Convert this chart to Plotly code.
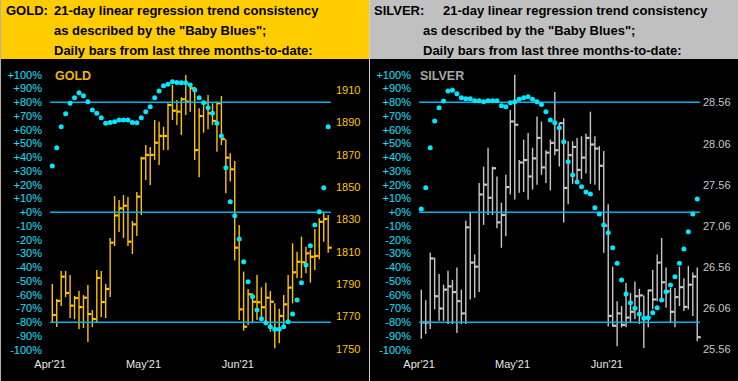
import plotly.graph_objects as go

# ---------------- data ----------------
month_labels = ["Apr'21", "May'21", "Jun'21"]

gold_high = [1790.2,1780.9,1798.2,1798.2,1795.7,1782.8,1785.8,1783.4,1789.5,1774.1,1798.8,1798.2,1790.2,1818.6,1844.5,1842.1,1845.1,1843.9,1829.1,1847.0,1868.8,1876.0,1874.8,1891.5,1890.4,1887.3,1901.8,1913.1,1903.8,1905.5,1919.3,1912.5,1912.0,1898.7,1902.8,1906.9,1901.8,1902.8,1906.3,1879.5,1870.9,1866.1,1826.6,1797.8,1787.1,1784.4,1795.7,1788.1,1791.0,1785.8,1778.2,1774.9,1783.4,1795.7,1815.3,1810.1,1819.4,1813.2,1811.2,1824.1,1830.7,1834.8,1832.8]
gold_low = [1766.7,1763.6,1776.6,1782.1,1769.2,1768.5,1762.4,1763.0,1754.3,1763.6,1766.1,1769.8,1769.2,1782.1,1813.6,1822.3,1818.6,1813.6,1808.7,1819.8,1832.8,1854.4,1851.3,1866.8,1863.7,1872.9,1872.9,1891.5,1888.4,1882.2,1894.6,1896.6,1866.8,1856.1,1883.6,1885.7,1888.4,1871.9,1876.0,1846.2,1853.4,1804.6,1767.9,1761.3,1764.8,1765.9,1767.9,1767.9,1764.8,1760.7,1750.4,1753.5,1764.8,1767.9,1778.2,1793.7,1793.7,1796.8,1791.0,1798.8,1805.4,1816.3,1809.5]
gold_close = [1771.0,1779.7,1794.7,1784.6,1776.8,1781.5,1775.9,1781.7,1771.6,1768.5,1793.9,1779.0,1787.1,1815.7,1832.5,1836.9,1838.5,1816.3,1827.0,1844.1,1867.8,1869.9,1869.9,1877.4,1881.6,1881.6,1900.7,1897.2,1896.6,1904.3,1902.8,1911.1,1872.9,1893.9,1902.2,1895.6,1890.9,1901.8,1879.7,1868.2,1861.0,1812.6,1774.5,1763.8,1783.8,1779.2,1778.9,1775.8,1781.7,1779.2,1762.2,1770.4,1777.6,1787.9,1797.4,1803.9,1803.6,1809.1,1807.0,1807.5,1828.6,1830.3,1812.6]
gold_blues = [33.7,47,62.3,71.7,79.3,83.4,87,84.8,80.4,74.4,72,68.8,64.7,65.4,65.9,67.1,67.1,67.1,65.4,65.2,68.8,73.2,76.8,83.4,88.2,92.1,93.1,95,94.5,94.3,94.3,92.6,89,83.4,79.7,76.1,72,64.7,55.5,32.4,7.7,-2.5,-19.4,-35.9,-50.5,-61.4,-71,-77.4,-80.3,-83.2,-85.1,-85.1,-83.2,-79.6,-74,-63.8,-51.2,-38.3,-24.3,-9.2,0.4,17.9,62.3]
gold_price_ticks = [1750, 1770, 1790, 1810, 1830, 1850, 1870, 1890, 1910]

silver_high = [26.28,26.15,26.73,26.67,26.47,26.34,26.51,26.40,26.55,26.28,27.12,27.23,26.71,27.58,27.78,28.01,27.78,27.66,27.34,27.68,28.47,28.90,27.86,28.11,28.19,28.01,28.39,28.33,27.98,28.11,28.69,28.31,28.37,28.09,28.09,28.13,28.15,28.18,28.45,28.15,28.03,27.97,27.32,26.56,26.14,26.08,26.36,26.24,26.38,26.29,26.21,26.28,26.52,26.71,26.91,26.55,26.30,26.30,26.56,26.42,26.57,26.49,26.55]
silver_low = [25.68,25.74,25.80,26.04,25.90,25.90,25.86,25.86,25.75,25.86,25.86,26.16,26.18,26.25,27.07,27.19,27.19,27.03,26.79,26.93,27.44,27.38,27.46,27.47,27.38,27.50,27.56,27.68,27.58,27.49,27.92,27.78,27.10,27.32,27.57,27.60,27.63,27.70,27.57,27.56,27.49,26.73,25.83,25.83,25.59,25.82,25.82,25.88,25.92,25.86,25.57,25.82,26.04,26.14,26.16,26.06,25.88,25.82,26.08,26.02,26.04,25.96,25.65]
silver_close = [25.88,25.88,26.66,26.20,26.05,26.28,26.32,26.25,26.14,25.99,27.04,26.61,26.56,27.44,27.56,27.40,27.76,27.10,27.19,27.53,28.33,28.29,27.83,27.86,27.66,27.88,28.13,27.77,27.95,28.07,27.98,28.31,27.52,27.92,28.02,27.74,27.89,28.13,28.05,28.00,27.79,27.06,25.96,25.84,25.99,25.85,25.94,26.01,26.20,26.21,25.94,26.27,26.16,26.61,26.37,26.26,26.01,26.19,26.31,26.07,26.34,26.44,25.70]
silver_blues = [2.4,17.9,47,66.4,76.1,80.9,88.2,88.7,86.3,83.4,82.6,82.6,81.2,81.2,80.4,81.2,81.2,81.2,77.5,76.8,79.7,80.4,82.2,83.4,84.1,82.2,80.4,78.5,73.2,67.1,65.2,61.5,51.3,36.8,27.1,22,18.6,14.8,13.3,3.3,-1.2,-9.2,-14.8,-25.7,-37.1,-49.2,-59.4,-65.7,-69.8,-74,-77.1,-76.7,-73,-69.4,-63.8,-57.7,-52.9,-46.8,-37.1,-26.7,-14.1,-1.2,9.7]
silver_price_ticks = [25.56, 26.06, 26.56, 27.06, 27.56, 28.06, 28.56]

pct_ticks = list(range(-100, 101, 10))
pct_labels = [("+%d%%" % v) if v >= 0 else ("%d%%" % v) for v in pct_ticks]
level_lines = [80, 0, -80]

# ---------------- styling ----------------
W, H = 738, 381
FONT = "Liberation Sans, Arial, sans-serif"
GOLD_C = "#FFC400"
SILV_C = "#C8C8C8"
CYAN_TXT = "#14E0FF"
DOT_C = "#00E8FF"
LINE_C = "#00B4F0"

def px_x(p):
    return p / W

def px_y(p):
    return 1 - p / H

def bar_traces(high, low, close, color, xa, ya):
    vx, vy, tx, ty = [], [], [], []
    for i, (h, l, c) in enumerate(zip(high, low, close)):
        vx += [i, i, None]
        vy += [l, h, None]
        tx += [i, i + 0.8, None]
        ty += [c, c, None]
    return [
        go.Scatter(x=vx, y=vy, mode="lines", line=dict(color=color, width=1.4),
                   xaxis=xa, yaxis=ya, hoverinfo="skip", showlegend=False),
        go.Scatter(x=tx, y=ty, mode="lines", line=dict(color=color, width=2.2),
                   xaxis=xa, yaxis=ya, hoverinfo="skip", showlegend=False),
    ]

def blue_traces(blues, xa, ya):
    n = len(blues)
    out = []
    for lv in level_lines:
        out.append(go.Scatter(x=[-0.5, n - 0.4], y=[lv, lv], mode="lines",
                              line=dict(color=LINE_C, width=1.5),
                              xaxis=xa, yaxis=ya, hoverinfo="skip", showlegend=False))
    out.append(go.Scatter(x=list(range(n)), y=blues, mode="markers",
                          marker=dict(color=DOT_C, size=5, symbol="circle"),
                          xaxis=xa, yaxis=ya, hoverinfo="skip", showlegend=False))
    return out

fig = go.Figure()
for t in bar_traces(gold_high, gold_low, gold_close, GOLD_C, "x", "y"):
    fig.add_trace(t)
for t in blue_traces(gold_blues, "x", "y2"):
    fig.add_trace(t)
for t in bar_traces(silver_high, silver_low, silver_close, SILV_C, "x2", "y3"):
    fig.add_trace(t)
for t in blue_traces(silver_blues, "x2", "y4"):
    fig.add_trace(t)

top_px, bot_px = 59, 356
ydom = [1 - bot_px / H, 1 - top_px / H]
month_pos = [-0.5, 20.5, 41.7]

xcommon = dict(showgrid=False, zeroline=False, showline=False, ticks="",
               tickvals=month_pos, ticktext=month_labels,
               tickfont=dict(family=FONT, size=11, color="#E8E8E8"))
ycommon = dict(showgrid=False, zeroline=False, showline=False, ticks="")

fig.update_layout(
    width=W, height=H, margin=dict(l=0, r=0, t=0, b=0, autoexpand=False),
    paper_bgcolor="black", plot_bgcolor="black", showlegend=False,
    xaxis=dict(domain=[px_x(45), px_x(335)], range=[-1.64, 63.53], anchor="y", **xcommon),
    yaxis=dict(domain=ydom, range=[1745.68, 1929.15], side="right", anchor="x",
               tickvals=gold_price_ticks, tickformat="d",
               tickfont=dict(family=FONT, size=11, color=GOLD_C), **ycommon),
    yaxis2=dict(domain=ydom, range=[-104.5, 111.5], side="left", overlaying="y", anchor="x",
                tickvals=pct_ticks, ticktext=pct_labels, ticklabelstandoff=2,
                tickfont=dict(family=FONT, size=11, color=CYAN_TXT), **ycommon),
    xaxis2=dict(domain=[px_x(414), px_x(702)], range=[-1.64, 63.07], anchor="y3", **xcommon),
    yaxis3=dict(domain=ydom, range=[25.471, 29.092], side="right", anchor="x2",
                tickvals=silver_price_ticks, tickformat=".2f",
                tickfont=dict(family=FONT, size=11, color=SILV_C), **ycommon),
    yaxis4=dict(domain=ydom, range=[-104.5, 111.5], side="left", overlaying="y3", anchor="x2",
                tickvals=pct_ticks, ticktext=pct_labels, ticklabelstandoff=2,
                tickfont=dict(family=FONT, size=11, color=CYAN_TXT), **ycommon),
)

shapes = [
    dict(type="rect", xref="paper", yref="paper", x0=0, x1=px_x(369), y0=px_y(59), y1=1,
         fillcolor="#FFCC00", line=dict(width=0), layer="below"),
    dict(type="rect", xref="paper", yref="paper", x0=px_x(370), x1=1, y0=px_y(59), y1=1,
         fillcolor="#C0C0C0", line=dict(width=0), layer="below"),
    dict(type="line", xref="paper", yref="paper", x0=px_x(369.5), x1=px_x(369.5), y0=0, y1=1,
         line=dict(color="#D0D0D0", width=1)),
    dict(type="line", xref="paper", yref="paper", x0=px_x(0.5), x1=px_x(0.5), y0=0, y1=1,
         line=dict(color="#B0B0B0", width=1)),
]
fig.update_layout(shapes=shapes)

def hdr(text, x, y, color="black"):
    return dict(text="<b>%s</b>" % text, xref="paper", yref="paper", x=px_x(x), y=px_y(y),
                xanchor="left", yanchor="middle", showarrow=False,
                font=dict(family=FONT, size=13, color=color))

annots = [
    hdr("GOLD:", 4, 11),
    hdr("21-day linear regression trend consistency", 52, 11),
    hdr("as described by the \"Baby Blues\";", 52, 30.5),
    hdr("Daily bars from last three months-to-date:", 52, 50),
    hdr("SILVER:", 372, 11),
    hdr("21-day linear regression trend consistency", 441, 11),
    hdr("as described by the \"Baby Blues\";", 421, 30.5),
    hdr("Daily bars from last three months-to-date:", 421, 50),
    dict(text="<b>GOLD</b>", xref="paper", yref="paper", x=px_x(53), y=px_y(76),
         xanchor="left", yanchor="middle", showarrow=False,
         font=dict(family=FONT, size=12.5, color="#F0B800")),
    dict(text="<b>SILVER</b>", xref="paper", yref="paper", x=px_x(418), y=px_y(76),
         xanchor="left", yanchor="middle", showarrow=False,
         font=dict(family=FONT, size=12.5, color="#A8A8A8")),
]
fig.update_layout(annotations=annots)

fig.write_html("out.html", config={"displayModeBar": False},
               post_script="document.body.style.margin='0';document.body.style.overflow='hidden';")
